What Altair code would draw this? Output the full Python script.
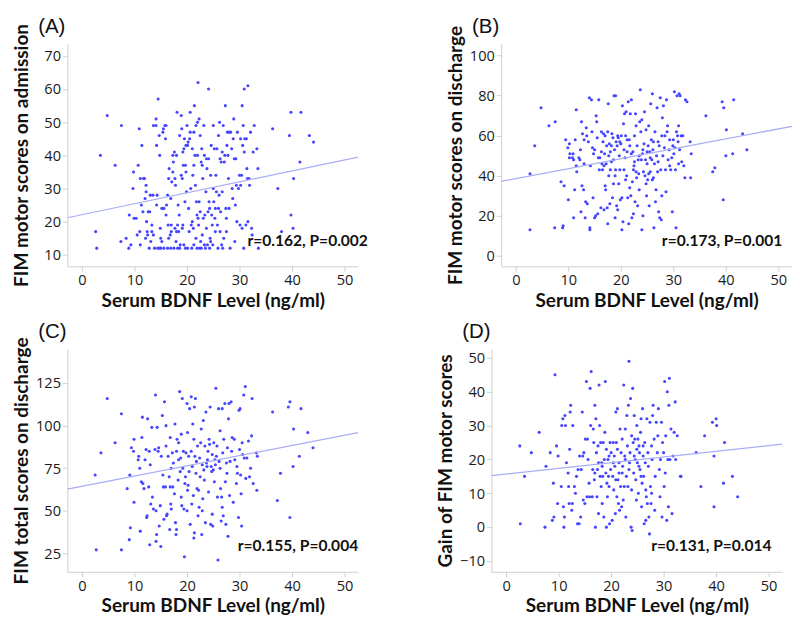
import altair as alt
import pandas as pd

# ---------------- data ----------------
bdnf_ticks = [0, 10, 20, 30, 40, 50]
bdnf_domain = [-2.8, 52.6]
panel_letters = ["(A)", "(B)", "(C)", "(D)"]
y_titles = ["FIM motor scores on admission", "FIM motor scores on discharge",
            "FIM total scores on discharge", "Gain of FIM motor scores"]
y_domains = [[6.5, 73.7], [-5.3, 106], [14.1, 145], [-13.2, 52.6]]
y_ticks = [[10, 20, 30, 40, 50, 60, 70], [0, 20, 40, 60, 80, 100],
           [25, 50, 75, 100, 125], [-10, 0, 10, 20, 30, 40, 50]]
fit_intercepts = [22.1, 38.6, 64.4, 15.7]
fit_slopes = [0.33, 0.496, 0.60, 0.168]
stats_text = ["r=0.162, P=0.002", "r=0.173, P=0.001", "r=0.155, P=0.004", "r=0.131, P=0.014"]

points_A = [
 (2.6,17),(2.8,12),(3.5,40),(4.8,52),(6.3,37),(7.5,49),(7.4,14),(8.4,15),(8.9,12),(9.0,22),(9.3,13),(9.7,30),
 (9.8,35),(9.9,21),(10.3,21),(10.5,16),(10.7,37),(10.9,48),(11.0,17),(11.1,13),(11.1,33),(11.3,25),(11.4,43),
 (11.6,23),(11.7,33),(11.9,33),(12.0,27),(12.1,15),(12.2,31),(12.2,29),(12.3,20),(12.4,17),(12.5,16),(12.6,23),
 (12.8,12),(12.9,23),(13.0,28),(13.1,14),(13.3,17),(13.3,19),(13.5,28),(13.6,16),(13.6,49),(13.8,12),(14.1,51),
 (14.1,49),(14.2,25),(14.2,43),(14.3,28),(14.4,12),(14.5,57),(14.7,46),(14.8,40),(14.8,12),(14.9,18),(15.0,15),
 (15.0,12),(15.2,24),(15.2,14),(15.4,47),(15.5,48),(15.6,24),(15.6,12),(15.8,49),(15.9,45),(16.0,49),(16.0,22),
 (16.1,25),(16.3,28),(16.3,12),(16.4,19),(16.5,33),(16.5,15),(16.6,36),(16.8,16),(16.9,27),(16.9,12),(17.0,17),
 (17.0,19),(17.1,32),(17.3,35),(17.3,40),(17.4,38),(17.5,12),(17.6,41),(17.7,18),(17.7,33),(17.8,31),(17.9,14),
 (18.0,40),(18.0,17),(18.1,53),(18.2,19),(18.2,12),(18.3,25),(18.4,17),(18.5,22),(18.6,46),(18.6,12),(18.7,13),
 (18.9,34),(18.9,52),(19.0,48),(19.1,18),(19.1,33),(19.2,41),(19.2,19),(19.3,37),(19.4,42),(19.4,13),(19.5,45),
 (19.6,26),(19.7,37),(19.7,12),(19.8,43),(19.8,35),(19.9,29),(20.0,49),(20.1,43),(20.1,12),(20.2,44),(20.3,24),
 (20.4,17),(20.5,45),(20.6,53),(20.6,47),(20.7,30),(20.8,19),(20.9,12),(21.0,42),(21.0,20),(21.1,34),(21.2,18),
 (21.3,47),(21.3,37),(21.3,13),(21.4,55),(21.5,40),(21.6,31),(21.7,49),(21.7,15),(21.8,26),(21.9,22),(21.9,12),
 (22.0,50),(22.0,40),(22.1,62),(22.1,21),(22.2,19),(22.3,51),(22.3,26),(22.4,12),(22.5,46),(22.5,23),(22.6,14),
 (22.7,38),(22.7,12),(22.8,42),(22.9,37),(22.9,16),(23.0,33),(23.1,21),(23.2,49),(23.3,40),(23.3,13),(23.4,22),
 (23.5,12),(23.6,29),(23.7,39),(23.7,18),(23.8,36),(23.9,13),(24.0,23),(24.1,60),(24.1,39),(24.2,26),(24.3,12),
 (24.3,24),(24.4,15),(24.5,34),(24.5,14),(24.6,43),(24.7,22),(24.8,19),(24.9,13),(25.0,49),(25.0,30),(25.1,26),
 (25.2,42),(25.3,21),(25.4,24),(25.4,17),(25.5,34),(25.6,29),(25.7,42),(25.8,19),(25.9,12),(26.0,46),(26.0,24),
 (26.1,28),(26.2,50),(26.3,39),(26.3,17),(26.4,23),(26.5,38),(26.6,13),(26.7,41),(26.7,29),(26.8,12),(26.9,49),
 (27.0,15),(27.1,38),(27.2,40),(27.3,55),(27.4,24),(27.5,17),(27.5,21),(27.6,43),(27.7,47),(27.8,40),(27.9,33),
 (28.0,47),(28.0,24),(28.2,12),(28.3,47),(28.5,42),(28.6,30),(28.7,27),(28.8,45),(28.9,51),(29.0,39),(29.1,14),
 (29.2,25),(29.3,39),(29.4,31),(29.5,20),(29.6,47),(29.8,30),(30.0,34),(30.1,19),(30.2,45),(30.2,31),(30.4,34),
 (30.5,18),(30.5,55),(30.6,43),(30.7,49),(30.8,12),(30.9,60),(30.9,41),(31.0,45),(31.2,19),(31.3,45),(31.4,36),
 (31.5,33),(31.6,61),(31.6,20),(31.8,33),(31.9,31),(32.1,47),(32.3,18),(32.4,16),(32.6,41),(32.8,49),(33.3,42),
 (33.5,36),(33.6,12),(36.3,48),(37.3,30),(38.0,17),(39.5,46),(39.8,53),(39.8,22),(40.2,18),(40.3,33),(41.5,38),
 (41.7,53),(43.3,46),(44.1,44)]

points_B = [
 (2.7,13),(2.7,41),(3.6,55),(4.8,74),(6.3,65),(7.5,67),(7.4,14),(8.6,37),(8.9,14),(9.0,15),(9.2,35),(9.5,58),
 (9.9,54),(10.0,28),(10.2,56),(10.3,51),(10.8,49),(10.9,51),(11.0,19),(11.0,48),(11.2,33),(11.3,58),(11.5,73),
 (11.6,42),(12.0,49),(12.2,48),(12.4,22),(12.5,67),(12.6,35),(12.7,61),(12.9,33),(13.0,46),(13.2,19),(13.3,27),
 (13.4,64),(13.5,60),(13.6,26),(13.8,57),(14.0,79),(14.1,13),(14.1,14),(14.2,45),(14.4,78),(14.6,54),(14.7,29),
 (14.8,51),(15.0,19),(15.2,20),(15.3,70),(15.4,67),(15.5,59),(15.6,21),(15.7,49),(15.8,78),(15.9,43),(16.0,49),
 (16.2,24),(16.3,62),(16.4,46),(16.5,43),(16.6,57),(16.7,61),(16.8,23),(16.9,51),(17.0,60),(17.0,35),(17.1,33),
 (17.2,46),(17.3,55),(17.4,24),(17.5,16),(17.6,76),(17.7,50),(17.8,56),(17.9,26),(18.0,43),(18.0,52),(18.2,47),
 (18.3,61),(18.4,29),(18.5,59),(18.6,36),(18.7,80),(18.8,53),(18.9,19),(19.0,43),(19.0,80),(19.1,57),(19.2,25),
 (19.3,55),(19.4,23),(19.5,59),(19.6,36),(19.7,50),(19.8,43),(19.9,28),(20.0,56),(20.1,60),(20.2,13),(20.3,75),
 (20.4,17),(20.5,66),(20.6,43),(20.7,71),(20.8,49),(20.9,38),(21.0,72),(21.1,40),(21.2,52),(21.3,29),(21.4,77),
 (21.5,16),(21.6,58),(21.7,55),(21.8,71),(21.9,30),(22.0,78),(22.0,51),(22.1,19),(22.2,37),(22.3,52),(22.4,21),
 (22.5,45),(22.6,60),(22.7,27),(22.8,71),(22.9,42),(23.0,39),(23.1,55),(23.2,25),(23.4,41),(23.5,50),(23.6,67),
 (23.7,83),(23.8,62),(23.9,48),(24.0,13),(24.1,51),(24.2,20),(24.3,42),(24.4,56),(24.5,72),(24.6,40),(24.7,48),
 (24.8,63),(24.9,30),(25.0,46),(25.1,38),(25.2,55),(25.3,41),(25.4,25),(25.5,52),(25.6,42),(25.7,76),(25.8,58),
 (25.9,48),(26.0,81),(26.1,53),(26.2,39),(26.3,14),(26.4,46),(26.5,62),(26.6,27),(26.7,33),(26.8,50),(26.9,74),
 (27.0,42),(27.1,57),(27.2,22),(27.3,55),(27.4,19),(27.5,79),(27.6,43),(27.7,18),(27.8,60),(27.9,69),(28.0,50),
 (28.1,75),(28.3,54),(28.5,43),(28.6,32),(28.7,78),(28.9,65),(29.0,48),(29.2,53),(29.3,58),(29.5,43),(29.7,49),
 (29.8,22),(29.9,55),(30.0,58),(30.2,82),(30.3,54),(30.4,43),(30.5,14),(30.6,62),(30.7,80),(30.8,60),(30.9,57),
 (31.0,46),(31.1,81),(31.2,53),(31.3,80),(31.5,60),(31.6,47),(31.8,60),(32.0,45),(32.2,39),(32.3,78),(32.6,77),
 (33.2,57),(33.3,39),(33.4,51),(36.2,70),(37.5,42),(37.9,44),(39.3,77),(39.5,28),(39.6,74),(40.0,50),(40.1,63),
 (41.3,51),(41.5,78),(43.2,61),(44.0,53),
 (17.5,62),(18.2,55),(19.4,60),(20.6,53),(21.2,58),(22.6,47),(23.3,48),(24.2,53),(25.0,52),(25.6,49),(26.2,57),
 (27.1,47),(28.4,60),(29.3,45),(30.1,51),(19.8,57),(20.9,60),(18.6,48),(16.3,52),(15.0,53),(22.4,43),(24.8,36),
 (23.5,33),(26.0,38),(27.8,30),(21.7,34),(20.2,29),(18.9,40),(17.7,40),(16.8,45),(14.5,62),(13.0,58),(12.3,53),
 (11.5,45),(10.2,49),(25.3,65),(24.0,68),(22.9,65),(28.8,62),(31.0,65)]

points_C = [
 (2.5,71),(2.7,27),(3.6,84),(4.8,116),(6.3,90),(7.5,27),(7.5,107),(8.6,63),(9.0,33),(9.1,71),(9.2,40),(9.4,87),
 (9.8,85),(9.9,55),(9.9,92),(10.7,80),(10.8,82),(11.0,75),(11.1,38),(11.3,67),(11.4,93),(11.5,105),(11.6,66),
 (11.8,63),(12.0,80),(12.2,86),(12.3,46),(12.4,47),(12.5,104),(12.7,64),(12.8,85),(12.9,30),(13.0,77),(13.1,54),
 (13.3,99),(13.4,58),(13.6,51),(13.9,86),(14.0,118),(14.1,50),(14.1,32),(14.2,36),(14.3,99),(14.5,85),(14.6,87),
 (14.7,41),(14.9,53),(15.0,29),(15.1,82),(15.3,106),(15.4,71),(15.6,45),(15.7,114),(15.9,64),(16.0,100),(16.1,47),
 (16.2,48),(16.4,82),(16.6,70),(16.7,39),(16.8,93),(16.8,64),(16.9,54),(17.0,51),(17.2,84),(17.3,64),(17.4,78),
 (17.6,60),(17.7,101),(17.8,43),(17.9,36),(18.0,85),(18.0,39),(18.1,92),(18.3,68),(18.4,90),(18.6,120),(18.7,73),
 (18.8,81),(18.9,95),(19.0,53),(19.1,116),(19.3,85),(19.4,51),(19.5,23),(19.6,66),(19.8,84),(20.0,113),(20.1,62),
 (20.1,96),(20.2,65),(20.4,73),(20.5,110),(20.6,42),(20.8,117),(20.9,54),(21.0,76),(21.1,101),(21.2,59),(21.3,34),
 (21.4,111),(21.4,37),(21.5,82),(21.6,116),(21.8,79),(21.9,63),(22.0,88),(22.1,47),(22.3,52),(22.4,81),(22.5,70),
 (22.7,98),(22.8,36),(22.9,77),(23.0,57),(23.1,103),(23.3,68),(23.4,88),(23.5,43),(23.6,108),(23.7,78),(23.8,76),
 (24.0,85),(24.1,61),(24.3,89),(24.4,111),(24.5,42),(24.6,76),(24.8,83),(24.9,41),(25.0,74),(25.1,90),(25.2,67),
 (25.4,77),(25.5,122),(25.7,88),(25.8,58),(25.9,21),(26.0,110),(26.1,79),(26.3,97),(26.4,63),(26.5,44),(26.6,58),
 (26.7,110),(26.8,84),(26.9,47),(27.0,92),(27.2,113),(27.3,67),(27.4,42),(27.6,72),(27.7,87),(27.8,35),(27.9,104),
 (28.0,113),(28.2,79),(28.4,114),(28.5,85),(28.6,93),(28.8,55),(29.0,92),(29.1,80),(29.4,66),(29.6,72),(29.8,46),
 (29.9,109),(30.0,86),(30.1,110),(30.2,71),(30.3,60),(30.4,41),(30.6,83),(30.8,118),(30.9,81),(31.1,123),(31.2,69),
 (31.4,81),(31.7,91),(31.9,70),(32.1,75),(32.3,94),(32.4,116),(32.6,66),(33.2,84),(33.3,62),(33.4,82),(36.3,108),
 (37.2,56),(37.8,72),(39.3,111),(39.6,114),(39.6,46),(40.2,76),(40.3,98),(41.4,82),(41.7,110),(43.0,96),(44.0,87),
 (18.4,80),(19.2,75),(20.3,82),(21.7,72),(22.6,90),(23.9,80),(24.7,73),(25.6,82),(26.3,75),(27.5,78),(19.7,70),
 (20.8,85),(23.2,74),(24.2,92),(25.3,80),(21.3,92),(22.2,62),(17.0,75),(16.0,88),(15.5,64),(18.9,58),(20.0,50),
 (22.9,50),(24.8,48),(26.7,52),(28.1,59),(29.5,76),(30.5,90)]

points_D = [
 (2.6,24),(2.7,1),(3.5,15),(4.8,22),(6.3,28),(7.4,0),(7.6,18),(8.4,22),(8.8,2),(9.0,13),(9.1,3),(9.3,45),(9.6,24),
 (9.8,7),(9.9,21),(10.5,12),(10.6,30),(10.8,32),(10.9,6),(11.0,0),(11.1,3),(11.2,33),(11.3,30),(11.5,19),(11.8,16),
 (11.9,12),(12.0,7),(12.1,23),(12.2,34),(12.3,36),(12.5,5),(12.6,7),(12.7,30),(13.0,12),(13.2,10),(13.4,15),
 (13.6,1),(13.7,17),(13.9,1),(14.0,21),(14.2,3),(14.3,17),(14.5,34),(14.6,21),(14.7,8),(14.8,22),(15.0,7),
 (15.1,26),(15.3,43),(15.4,9),(15.5,26),(15.6,20),(15.8,13),(15.9,9),(16.0,41),(16.1,30),(16.2,46),(16.4,9),
 (16.5,17),(16.6,29),(16.7,25),(16.8,14),(16.9,36),(17.0,0),(17.1,32),(17.2,22),(17.3,9),(17.4,17),(17.5,24),
 (17.6,4),(17.7,42),(17.8,30),(17.9,15),(18.0,25),(18.1,12),(18.2,19),(18.3,7),(18.4,15),(18.5,25),(18.6,3),
 (18.7,20),(18.8,28),(18.9,43),(19.0,16),(19.1,0),(19.2,13),(19.3,9),(19.4,20),(19.5,15),(19.6,12),(19.7,1),
 (19.8,25),(19.9,17),(20.0,22),(20.2,2),(20.3,15),(20.4,25),(20.5,11),(20.6,21),(20.7,18),(20.8,4),(20.9,34),
 (21.0,25),(21.1,9),(21.2,35),(21.3,14),(21.4,7),(21.5,19),(21.6,5),(21.7,29),(21.8,12),(21.9,22),(22.0,6),
 (22.1,26),(22.2,18),(22.3,8),(22.4,42),(22.5,12),(22.6,21),(22.7,29),(22.8,3),(22.9,15),(23.0,33),(23.1,24),
 (23.2,12),(23.3,36),(23.4,49),(23.5,19),(23.6,22),(23.7,38),(23.8,0),(23.9,11),(24.0,-1),(24.1,41),(24.2,25),
 (24.3,16),(24.4,33),(24.5,26),(24.6,20),(24.7,14),(24.8,8),(24.9,30),(25.0,19),(25.1,26),(25.2,10),(25.3,24),
 (25.4,22),(25.5,17),(25.6,28),(25.7,32),(25.8,6),(25.9,13),(26.0,35),(26.1,21),(26.2,15),(26.3,1),(26.4,25),
 (26.5,19),(26.6,2),(26.7,9),(26.8,32),(26.9,7),(27.0,22),(27.1,18),(27.2,3),(27.3,-2),(27.4,31),(27.5,12),
 (27.6,7),(27.7,10),(27.8,20),(27.9,33),(28.0,36),(28.2,26),(28.3,5),(28.4,15),(28.6,31),(28.8,22),(28.9,27),
 (29.0,35),(29.2,17),(29.3,9),(29.4,20),(29.6,31),(29.7,3),(29.8,25),(30.0,22),(30.1,12),(30.2,43),(30.3,16),
 (30.4,27),(30.6,2),(30.7,40),(30.8,20),(30.9,6),(31.0,36),(31.1,44),(31.2,20),(31.4,29),(31.6,4),(31.8,21),
 (32.0,28),(32.2,37),(32.3,20),(32.6,27),(33.2,15),(33.3,15),(36.2,22),(37.1,12),(37.8,27),(39.3,31),(39.6,21),
 (39.6,6),(40.0,32),(40.1,30),(41.4,13),(41.6,25),(43.1,15),(44.1,9),
 (18.3,18),(19.6,21),(20.4,19),(21.5,16),(22.7,20),(23.4,17),(24.4,21),(25.3,18),(26.1,24),(19.1,23),(20.9,14),
 (22.1,16),(23.9,27),(25.7,15),(17.6,19),(16.9,16),(21.2,23),(24.9,23),(26.6,11),(27.7,24)]

all_points = [points_A, points_B, points_C, points_D]

# ---------------- layout / style ----------------
W, H = 299, 229
stat_dx = [10, -10, 0, -11]
y_title_pad = [13, 4, 4, 4]
POINT_COLOR = "#4545ff"
LINE_COLOR = "#a9adf4"


def panel(i):
    df = pd.DataFrame(all_points[i], columns=["bdnf", "score"])
    xs = alt.Scale(domain=bdnf_domain, nice=False, zero=False)
    ys = alt.Scale(domain=y_domains[i], nice=False, zero=False)
    xax = alt.Axis(values=bdnf_ticks, tickCount=len(bdnf_ticks),
                   title="Serum BDNF Level (ng/ml)", labelOverlap=False)
    yax = alt.Axis(values=y_ticks[i], tickCount=len(y_ticks[i]),
                   title=y_titles[i], labelOverlap=False, titlePadding=y_title_pad[i])
    pts = alt.Chart(df).mark_circle(size=10, color=POINT_COLOR, opacity=1).encode(
        x=alt.X("bdnf:Q", scale=xs, axis=xax),
        y=alt.Y("score:Q", scale=ys, axis=yax),
    )
    fit_x = bdnf_domain
    fit_df = pd.DataFrame({"bdnf": fit_x,
                           "score": [fit_intercepts[i] + fit_slopes[i] * v for v in fit_x]})
    line = alt.Chart(fit_df).mark_line(color=LINE_COLOR, strokeWidth=1.3, clip=True).encode(
        x=alt.X("bdnf:Q", scale=xs, axis=xax), y=alt.Y("score:Q", scale=ys, axis=yax))
    stat = alt.Chart(pd.DataFrame({"t": [stats_text[i]]})).mark_text(
        align="right", baseline="middle", font="Lato", fontWeight="bold",
        fontSize=16, color="#111111").encode(
        x=alt.value(W + stat_dx[i]), y=alt.value(H - 26), text="t:N")
    lab = alt.Chart(pd.DataFrame({"t": [panel_letters[i]]})).mark_text(
        align="left", baseline="middle", font="Liberation Sans", fontSize=21,
        color="#111111").encode(x=alt.value(-30), y=alt.value(-17), text="t:N")
    return alt.layer(pts, line, stat, lab).properties(width=W, height=H)


top = alt.hconcat(panel(0), panel(1), spacing=80)
bottom = alt.hconcat(panel(2), panel(3), spacing=80)
chart = alt.vconcat(top, bottom, spacing=12).properties(
    background="white", padding={"left": 3, "top": 0, "right": 0, "bottom": 0}
).configure_view(stroke=None).configure_axis(
    grid=False,
    domainColor="#cfcfcf",
    tickColor="#cfcfcf",
    tickSize=5,
    labelFont="Open Sans",
    labelFontSize=15,
    labelColor="#1a1a1a",
    labelPadding=2,
    labelOverlap=False,
    titleFont="Lato",
    titleFontWeight="bold",
    titleFontSize=19.5,
    titleColor="#111111",
    titlePadding=4,
)

chart.save("out.html", embed_options={"renderer": "svg", "actions": False})
